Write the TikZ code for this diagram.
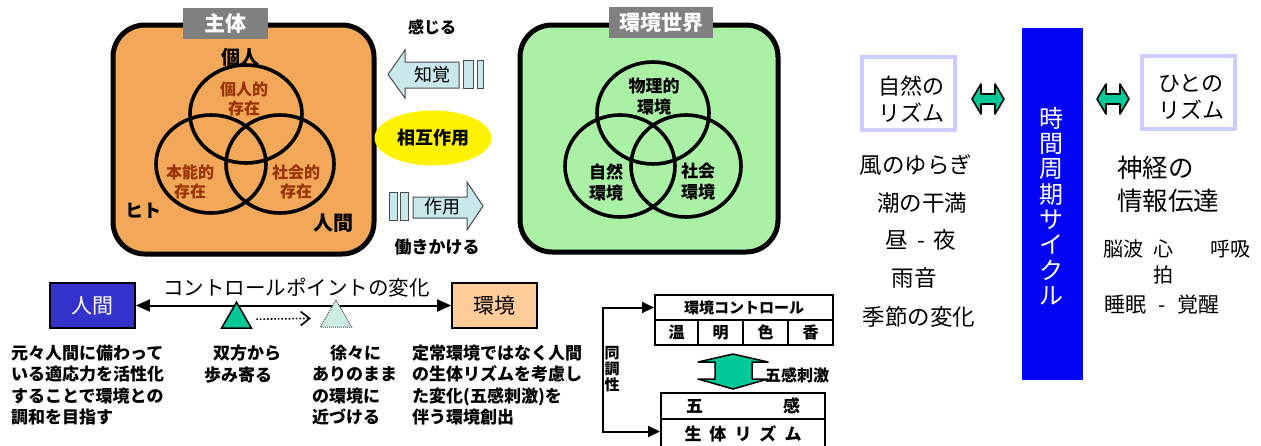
\documentclass[tikz,border=0pt]{standalone}
\usepackage{fontspec}
\setmainfont{Noto Sans CJK JP}
\usetikzlibrary{arrows.meta,shapes.geometric,calc}
\definecolor{orangebg}{RGB}{242,168,88}
\definecolor{greenbg}{RGB}{170,240,165}
\definecolor{browntxt}{RGB}{153,51,0}
\definecolor{arrblue}{RGB}{200,232,235}
\definecolor{labgray}{RGB}{128,128,128}
\definecolor{arrgreen}{RGB}{0,200,150}
\definecolor{lav}{RGB}{204,204,255}
\definecolor{barblue}{RGB}{5,5,245}
\definecolor{ningenblue}{RGB}{51,51,204}
\definecolor{peach}{RGB}{255,204,153}
\definecolor{hatchfill}{RGB}{205,236,228}
\newcommand\fz[2]{\fontsize{#1}{#2}\selectfont}
\begin{document}
\begin{tikzpicture}[x=1pt,y=-1pt,
  bigbox/.style={draw=black, line width=5pt, rounded corners=32pt, inner sep=0pt},
  graylabel/.style={fill=labgray, text=white, font=\fz{21}{24}\bfseries, inner sep=0pt},
  venn/.style={draw=black, line width=3.6pt},
  bold/.style={font=\fz{#1}{#1}\bfseries},
  lbl/.style={align=center, inner sep=0pt},
  orgtxt/.style={align=center, inner sep=0pt, text=browntxt, font=\fz{16}{19.5}\bfseries},
  grntxt/.style={align=center, inner sep=0pt, font=\fz{17}{21}\bfseries},
  flatarrow/.style={draw=black!70, line width=1pt, fill=arrblue},
  lavbox/.style={draw=lav, line width=3.5pt, inner sep=0pt},
  gdarrow/.style={draw=black, line width=1.6pt, fill=arrgreen, line join=round},
  cell/.style={draw=black, line width=2pt, inner sep=0pt, font=\fz{15}{17}\bfseries},
  btxt/.style={align=left, inner sep=0pt, font=\fz{17}{21.4}\bfseries}
]
\useasboundingbox (0,0) rectangle (1261,445);

% ---------------- subject box ----------------
\node[bigbox, fill=orangebg, minimum width=261pt, minimum height=229pt] (subj) at (243.5,139.5) {};
\node[graylabel, minimum width=85pt, minimum height=31pt] (subjlab) at (225.5,23.5) {主体};
\draw[venn] (246,114) ellipse [x radius=56pt, y radius=49pt];
\draw[venn] (211,164) ellipse [x radius=55pt, y radius=49pt];
\draw[venn] (280,164) ellipse [x radius=54pt, y radius=49pt];
\node[lbl, bold=19] (kojin) at (240,57) {個人};
\node[orgtxt] (kojinteki) at (244,99) {個人的\\存在};
\node[orgtxt] (honno) at (190,182) {本能的\\存在};
\node[orgtxt] (shakai) at (296,182) {社会的\\存在};
\node[lbl, bold=18] (hito) at (143,211) {ヒト};
\node[lbl, bold=20] (ningen) at (333,223) {人間};

% ---------------- environment box ----------------
\node[bigbox, fill=greenbg, minimum width=258pt, minimum height=227pt] (env) at (649,138.5) {};
\node[graylabel, minimum width=104pt, minimum height=31pt] (envlab) at (661,22.5) {環境世界};
\draw[venn] (653,113) ellipse [x radius=56pt, y radius=51pt];
\draw[venn] (620,166) ellipse [x radius=55pt, y radius=51pt];
\draw[venn] (686,166) ellipse [x radius=55pt, y radius=51pt];
\node[grntxt] (butsuri) at (654,97) {物理的\\環境};
\node[grntxt] (shizen) at (606,182) {自然\\環境};
\node[grntxt] (shakaik) at (698,182) {社会\\環境};

% ---------------- middle ----------------
\node[lbl, bold=16] (kanjiru) at (432,27) {感じる};
\draw[flatarrow] (459,62) -- (405,62) -- (405,50) -- (388,74.5) -- (405,98) -- (405,88) -- (459,88) -- cycle;
\node[lbl, font=\fz{18}{20}] (chikaku) at (432,75) {知覚};
\draw[flatarrow] (463,60) rectangle (473,88);
\draw[flatarrow] (477.5,60) rectangle (483,88);
\node[ellipse, fill=yellow, minimum width=117pt, minimum height=55pt, inner sep=0pt, font=\fz{18}{20}\bfseries] (sogo) at (433,138) {相互作用};
\draw[flatarrow] (389,192) rectangle (397,220);
\draw[flatarrow] (400,192) rectangle (408,220);
\draw[flatarrow] (413,197) -- (467,197) -- (467,182) -- (483,206) -- (467,230) -- (467,218) -- (413,218) -- cycle;
\node[lbl, font=\fz{18}{20}] (sayo) at (442,207) {作用};
\node[lbl, bold=17] (hataraki) at (437,247) {働きかける};

% ---------------- right section ----------------
\node[fill=barblue, minimum width=61pt, minimum height=352pt, inner sep=0pt] (cyclebar) at (1052.5,204) {};
\node[lbl, text=white, font=\fz{24}{25.3}] (cycletxt) at (1051,206) {時\\間\\周\\期\\サ\\イ\\ク\\ル};
\node[lavbox, minimum width=93pt, minimum height=73pt] (natbox) at (908.5,93.5) {};
\node[align=left, inner sep=0pt, font=\fz{22}{27}] (nattxt) at (911,99) {自然の\\リズム};
\node[lavbox, minimum width=93pt, minimum height=73pt] (humbox) at (1188.5,92.5) {};
\node[align=left, inner sep=0pt, font=\fz{22}{27}] (humtxt) at (1191,97) {ひとの\\リズム};
\draw[gdarrow] (972,99) -- (981,84) -- (981,94) -- (995,94) -- (995,84) -- (1004,99) -- (995,114) -- (995,104) -- (981,104) -- (981,114) -- cycle;
\draw[gdarrow] (1097,99) -- (1106,84) -- (1106,94) -- (1120,94) -- (1120,84) -- (1129,99) -- (1120,114) -- (1120,104) -- (1106,104) -- (1106,114) -- cycle;

\node[lbl, font=\fz{22.5}{25}] (kaze) at (916,165) {風のゆらぎ};
\node[lbl, font=\fz{22.5}{25}] (shio) at (922,203) {潮の干満};
\node[lbl, font=\fz{22.5}{25}] (hiru) at (921,240) {昼\hspace*{9pt}-\hspace*{9pt}夜};
\node[lbl, font=\fz{22.5}{25}] (ame) at (914,278) {雨音};
\node[lbl, font=\fz{22.5}{25}] (kisetsu) at (919,317) {季節の変化};

\node[anchor=west, align=left, inner sep=0pt, font=\fz{25.5}{33}] (shinkei) at (1117,184) {神経の\\情報伝達};
\node[lbl, font=\fz{20}{26}] (noha) at (1123,249) {脳波};
\node[lbl, font=\fz{20}{26}] (shinpaku) at (1163,262) {心\\拍};
\node[lbl, font=\fz{20}{26}] (kokyu) at (1230,249) {呼吸};
\node[lbl, font=\fz{21}{24}] (suimin) at (1162,305) {睡眠\hspace*{12pt}-\hspace*{12pt}覚醒};

% ---------------- bottom left ----------------
\node[draw=black, line width=1.8pt, fill=ningenblue, minimum width=85pt, minimum height=45pt, inner sep=0pt, text=white, font=\fz{21}{24}] (hb) at (92.5,305.5) {人間};
\node[draw=black, line width=1.8pt, fill=peach, minimum width=85pt, minimum height=45pt, inner sep=0pt, font=\fz{21}{24}] (kb) at (494.5,305.5) {環境};
\draw[line width=2pt, {Triangle[length=14pt,width=12pt]}-{Triangle[length=14pt,width=12pt]}] (hb) -- (kb);
\node[lbl, font=\fz{20.5}{23}] (cpt) at (296.5,288) {コントロールポイントの変化};
\node[regular polygon, regular polygon sides=3, draw=black, line width=1.5pt, fill=arrgreen, minimum size=34.6pt, inner sep=0pt] (t1) at (236.5,319.5) {};
\node[regular polygon, regular polygon sides=3, draw=black!70, densely dotted, line width=1pt, fill=hatchfill, minimum size=36pt, inner sep=0pt] (t2) at (336,318) {};
\draw[dotted, line width=1.6pt, -{Straight Barb[length=9pt,width=14pt,line width=1.6pt]}, shorten <=9pt, shorten >=14pt] (t1) -- (t2);

\node[btxt, anchor=west] (txt1) at (11,385) {元々人間に備わって\\いる適応力を活性化\\することで環境との\\調和を目指す};
\node[btxt, anchor=west] (txt2) at (204,364) {\hspace*{9pt}双方から\\歩み寄る};
\node[btxt, anchor=west] (txt3) at (312,385) {\hspace*{18pt}徐々に\\ありのまま\\の環境に\\近づける};
\node[btxt, anchor=west] (txt4) at (412,385) {定常環境ではなく人間\\の生体リズムを考慮し\\た変化(五感刺激)を\\伴う環境創出};

% ---------------- bottom middle ----------------
\node[cell, minimum width=178pt, minimum height=25pt] (ctrl) at (744,307.5) {環境コントロール};
\node[cell, minimum width=43pt, minimum height=25pt, font=\fz{16}{18}\bfseries] (on) at (676.5,332.5) {温};
\node[cell, minimum width=45pt, minimum height=25pt, font=\fz{16}{18}\bfseries] (mei) at (720.5,332.5) {明};
\node[cell, minimum width=45pt, minimum height=25pt, font=\fz{16}{18}\bfseries] (iro) at (765.5,332.5) {色};
\node[cell, minimum width=45pt, minimum height=25pt, font=\fz{16}{18}\bfseries] (ka) at (810.5,332.5) {香};
\draw[line width=1.5pt, draw=black, fill=arrgreen, line join=round] (698,362) -- (733,354) -- (768,362) -- (752,362) -- (752,379) -- (768,379) -- (733,389) -- (698,379) -- (715,379) -- (715,362) -- cycle;
\node[lbl, bold=16] (gokanshigeki) at (797,375) {五感刺激};
\node[cell, minimum width=164pt, minimum height=26pt, font=\fz{17}{19}\bfseries] (gokan) at (743,406) {五\hspace*{80pt}感};
\node[cell, minimum width=164pt, minimum height=29pt, font=\fz{17}{19}\bfseries] (rhythm) at (743,433.5) {生\hspace*{8pt}体\hspace*{8pt}リ\hspace*{8pt}ズ\hspace*{8pt}ム};
\draw[line width=2pt, {Triangle[length=12pt,width=11pt]}-{Triangle[length=12pt,width=11pt]}] (ctrl.west) -- ++(-51,0) |- ([yshift=2pt]rhythm.west);
\node[lbl, font=\fz{15}{16}\bfseries] (docho) at (612,369) {同\\調\\性};
\end{tikzpicture}
\end{document}
